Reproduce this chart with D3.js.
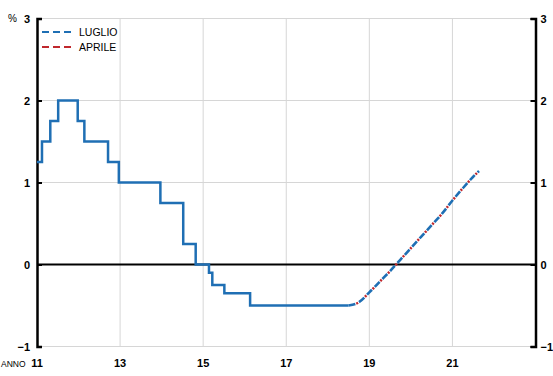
<!DOCTYPE html>
<html lang="it">
<head>
<meta charset="UTF-8">
<title>Tassi</title>
<script src="https://cdn.jsdelivr.net/npm/d3@7"></script>
<style>
  body { margin: 0; background: #fff; }
  text { font-family: "Liberation Sans", Arial, sans-serif; }
</style>
</head>
<body>
<script>
// storico (gradini) e previsioni
const stepYears  = [11.0, 11.12, 11.32, 11.51, 11.98, 12.14, 12.71, 12.97, 13.97, 14.52, 14.82, 15.14, 15.22, 15.51, 16.13, 18.5];
const stepValues = [1.25, 1.5, 1.75, 2.0, 1.75, 1.5, 1.25, 1.0, 0.75, 0.25, 0, -0.1, -0.25, -0.35, -0.5, -0.5];

const luglioYears  = [18.5, 18.75, 19.0, 19.25, 19.5, 19.75, 20.0, 20.25, 20.5, 20.75, 21.0, 21.25, 21.5, 21.64];
const luglioValues = [-0.5, -0.46, -0.34, -0.21, -0.08, 0.06, 0.2, 0.34, 0.48, 0.62, 0.78, 0.93, 1.07, 1.14];

const aprileYears  = [18.5, 18.75, 19.0, 19.25, 19.5, 19.75, 20.0, 20.25, 20.5, 20.75, 21.0, 21.25, 21.5, 21.64];
const aprileValues = [-0.5, -0.46, -0.34, -0.21, -0.08, 0.06, 0.2, 0.34, 0.48, 0.62, 0.78, 0.93, 1.07, 1.14];

const xTicks = [11, 13, 15, 17, 19, 21];
const yTicks = [-1, 0, 1, 2, 3];
const legendNames = ["LUGLIO", "APRILE"];

const blue = "#1f6fb4", red = "#c0282d";
const W = 553, H = 376;
const mLeft = 37, mRight = 535.5, mTop = 18.5, mBottom = 346.5;

const svg = d3.select("body").append("svg").attr("width", W).attr("height", H);

const x = d3.scaleLinear().domain([11, 23]).range([mLeft, mRight]);
const y = d3.scaleLinear().domain([-1, 3]).range([mBottom, mTop]);

// griglia
svg.append("g").selectAll("line").data(xTicks.slice(1)).enter().append("line")
  .attr("x1", d => x(d)).attr("x2", d => x(d))
  .attr("y1", mTop).attr("y2", mBottom)
  .attr("stroke", "#d6d6d6").attr("stroke-width", 1);
svg.append("g").selectAll("line").data(yTicks.filter(d => d !== 0)).enter().append("line")
  .attr("x1", mLeft).attr("x2", mRight)
  .attr("y1", d => y(d)).attr("y2", d => y(d))
  .attr("stroke", "#d6d6d6").attr("stroke-width", 1);

// linea dello zero
svg.append("line")
  .attr("x1", mLeft).attr("x2", mRight).attr("y1", y(0)).attr("y2", y(0))
  .attr("stroke", "#000").attr("stroke-width", 2);

// assi verticali
const yLeft = d3.axisLeft(y).tickValues(yTicks).tickSize(-5).tickPadding(7).tickFormat(d3.format("d"));
const yRight = d3.axisRight(y).tickValues(yTicks).tickSize(-5).tickPadding(5).tickFormat(d3.format("d"));
[[yLeft, mLeft], [yRight, mRight]].forEach(([ax, pos]) => {
  const g = svg.append("g").attr("transform", "translate(" + pos + ",0)").call(ax);
  g.select(".domain").attr("stroke", "#000").attr("stroke-width", 2.5);
  g.selectAll(".tick line").attr("stroke", "#000").attr("stroke-width", 2);
  g.selectAll("text").attr("font-size", 11).attr("font-weight", "bold").attr("fill", "#000")
    .attr("font-family", "Liberation Sans, Arial, sans-serif");
});

// asse x (solo etichette)
svg.append("g").selectAll("text").data(xTicks).enter().append("text")
  .attr("x", d => x(d)).attr("y", 367)
  .attr("text-anchor", "middle").attr("font-size", 11).attr("font-weight", "bold")
  .text(d => d);
svg.append("text").attr("x", 1).attr("y", 367).attr("font-size", 8.5).text("ANNO");
svg.append("text").attr("x", 8).attr("y", 22).attr("font-size", 10).text("%");

// serie
const line = d3.line().x(d => x(d[0])).y(d => y(d[1]));

svg.append("path")
  .datum(d3.zip(aprileYears, aprileValues))
  .attr("d", line.curve(d3.curveMonotoneX))
  .attr("fill", "none").attr("stroke", red).attr("stroke-width", 2.5)
  .attr("stroke-dasharray", "2,9").attr("stroke-dashoffset", -8);

svg.append("path")
  .datum(d3.zip(luglioYears, luglioValues))
  .attr("d", line.curve(d3.curveMonotoneX))
  .attr("fill", "none").attr("stroke", blue).attr("stroke-width", 2.6)
  .attr("stroke-dasharray", "7,4");

svg.append("path")
  .datum(d3.zip(stepYears, stepValues))
  .attr("d", line.curve(d3.curveStepAfter))
  .attr("fill", "none").attr("stroke", blue).attr("stroke-width", 2.5);

// legenda
const leg = svg.append("g").selectAll("g").data(legendNames).enter().append("g")
  .attr("transform", (d, i) => "translate(42," + (32 + i * 15) + ")");
leg.append("line").attr("x1", 0).attr("x2", 31).attr("y1", 0).attr("y2", 0)
  .attr("stroke", (d, i) => i === 0 ? blue : red).attr("stroke-width", 2.2)
  .attr("stroke-dasharray", "7,4");
leg.append("text").attr("x", 37).attr("y", 4).attr("font-size", 10.5)
  .attr("font-family", "Open Sans, sans-serif").text(d => d);
</script>
</body>
</html>
